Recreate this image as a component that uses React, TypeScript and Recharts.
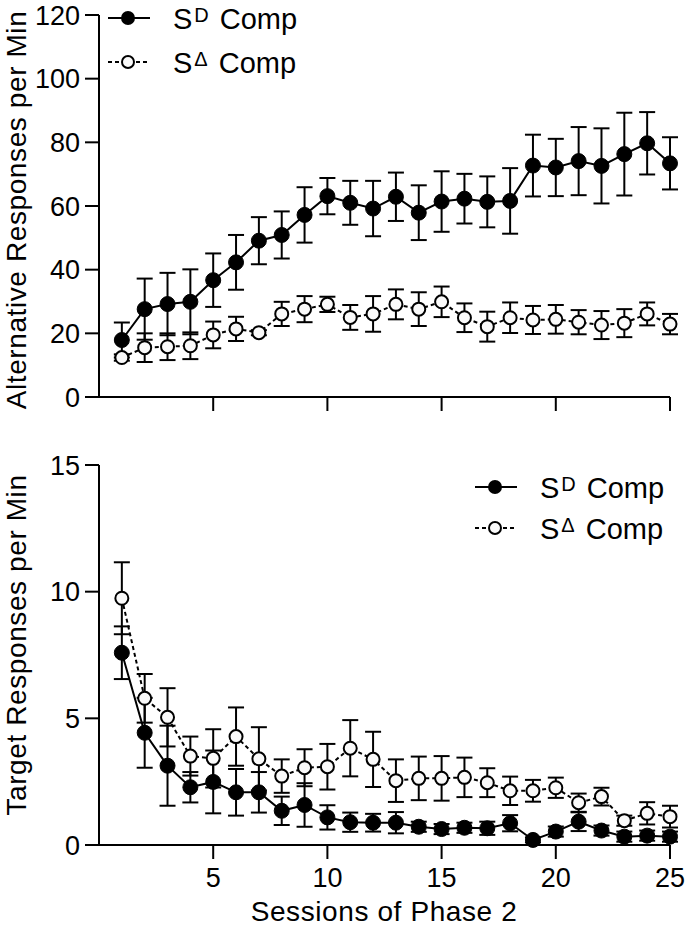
import React from 'react';
import { LineChart, Line, XAxis, YAxis, ErrorBar, Legend } from 'recharts';

// sessions of phase 2
const sessions = [1, 2, 3, 4, 5, 6, 7, 8, 9, 10, 11, 12, 13, 14, 15, 16, 17, 18, 19, 20, 21, 22, 23, 24, 25];

// top panel: alternative responses per min (mean, SEM)
const altSD = [17.9, 27.6, 29.2, 29.9, 36.7, 42.3, 49.1, 50.9, 57.2, 63.1, 61.0, 59.2, 62.9, 57.9, 61.4, 62.3, 61.3, 61.6, 72.7, 72.1, 74.1, 72.6, 76.3, 79.7, 73.4];
const altSDErr = [5.5, 9.6, 9.8, 10.2, 8.4, 8.6, 7.4, 7.4, 8.7, 5.7, 6.9, 8.7, 7.6, 8.6, 9.5, 7.8, 8.0, 10.3, 9.7, 9.0, 10.7, 11.8, 13.0, 9.8, 8.2];
const altSDelta = [12.4, 15.5, 15.8, 16.1, 19.5, 21.4, 20.2, 26.1, 27.6, 29.1, 25.0, 26.1, 29.1, 27.6, 29.9, 24.9, 22.1, 24.9, 24.2, 24.4, 23.5, 22.6, 23.2, 26.1, 22.9];
const altSDeltaErr = [1.0, 4.5, 4.2, 4.2, 4.2, 3.8, 0.8, 3.8, 4.1, 2.4, 3.9, 5.6, 4.7, 5.3, 4.8, 4.5, 4.7, 4.8, 4.4, 4.5, 3.8, 4.4, 4.4, 3.6, 3.2];

// bottom panel: target responses per min (mean, SEM)
const tgtSD = [7.59, 4.43, 3.13, 2.28, 2.49, 2.08, 2.08, 1.35, 1.58, 1.09, 0.9, 0.88, 0.88, 0.72, 0.63, 0.68, 0.66, 0.86, 0.2, 0.53, 0.92, 0.57, 0.33, 0.37, 0.33];
const tgtSDErr = [1.04, 1.38, 1.58, 0.6, 1.24, 0.92, 0.8, 0.56, 0.86, 0.48, 0.38, 0.35, 0.42, 0.2, 0.2, 0.2, 0.26, 0.32, 0.1, 0.2, 0.37, 0.2, 0.2, 0.2, 0.2];
const tgtSDelta = [9.74, 5.79, 5.04, 3.51, 3.42, 4.28, 3.4, 2.72, 3.05, 3.09, 3.82, 3.38, 2.54, 2.63, 2.63, 2.67, 2.46, 2.14, 2.14, 2.26, 1.67, 1.91, 0.96, 1.25, 1.12];
const tgtSDeltaErr = [1.42, 0.96, 1.15, 0.77, 1.15, 1.15, 1.25, 0.66, 0.73, 0.9, 1.11, 1.09, 0.84, 0.86, 0.88, 0.78, 0.57, 0.56, 0.43, 0.4, 0.36, 0.35, 0.2, 0.44, 0.43];

const xTicks = [5, 10, 15, 20, 25];
const altTicks = [0, 20, 40, 60, 80, 100, 120];
const tgtTicks = [0, 5, 10, 15];
const legendSups = ['D', 'Δ'];

const FONT = '"Liberation Sans", Arial, sans-serif';

const topData = sessions.map((s, i) => ({
  session: s,
  sd: altSD[i],
  sdErr: altSDErr[i],
  sdelta: altSDelta[i],
  sdeltaErr: altSDeltaErr[i],
}));

const bottomData = sessions.map((s, i) => ({
  session: s,
  sd: tgtSD[i],
  sdErr: tgtSDErr[i],
  sdelta: tgtSDelta[i],
  sdeltaErr: tgtSDeltaErr[i],
}));

const axisStyle = { stroke: '#000', strokeWidth: 2 };

const YTick = (props: any) => (
  <text x={props.x} y={props.y} dy="0.36em" textAnchor="end" fontFamily={FONT} fontSize={27} fill="#000">
    {props.payload.value}
  </text>
);

const XTick = (props: any) => (
  <text x={props.x} y={props.y} dy="0.72em" textAnchor="middle" fontFamily={FONT} fontSize={27} fill="#000">
    {props.payload.value}
  </text>
);

function AxisTitle(props: any) {
  const { tx, ty, rot, text } = props;
  return (
    <text
      x={tx}
      y={ty}
      transform={rot ? `rotate(-90, ${tx}, ${ty})` : undefined}
      textAnchor="middle"
      fontFamily={FONT}
      fontSize={28}
      letterSpacing={0.6}
      fill="#000"
    >
      {text}
    </text>
  );
}

function LegendBox({ gap }: { gap: number }) {
  return (
    <svg width={240} height={90} style={{ display: 'block' }}>
      {legendSups.map((sup, i) => {
        const cy = 20 + i * gap;
        const filled = i === 0;
        return (
          <g key={sup}>
            <line x1={8} x2={50} y1={cy} y2={cy} stroke="#000" strokeWidth={2} strokeDasharray={filled ? undefined : '4 3'} />
            <circle cx={28} cy={cy} r={filled ? 7 : 6} fill={filled ? '#000' : '#fafafa'} stroke="#000" strokeWidth={filled ? 0 : 2} />
            <text x={73} y={cy + 11} fontFamily={FONT} fontSize={29} fill="#000">
              S
              <tspan dx={2} dy={-7} fontSize={20}>{sup}</tspan>
              <tspan dx={11} dy={7} fontSize={29}>Comp</tspan>
            </text>
          </g>
        );
      })}
    </svg>
  );
}

export default function App() {
  return (
    <div style={{ position: 'absolute', left: 0, top: 0, width: 685, height: 929, background: '#fff' }}>
      <div style={{ position: 'absolute', left: 0, top: 0 }}>
        <LineChart width={685} height={430} data={topData} margin={{ top: 15, right: 15, left: 0, bottom: 13 }}>
          <XAxis
            dataKey="session"
            type="number"
            domain={[0, 25]}
            ticks={xTicks}
            tickFormatter={() => ''}
            tickSize={14}
            height={20}
            axisLine={axisStyle}
            tickLine={axisStyle}
          />
          <YAxis
            type="number"
            domain={[0, 120]}
            ticks={altTicks}
            width={99}
            tickSize={14}
            tickMargin={5}
            tick={<YTick />}
            axisLine={axisStyle}
            tickLine={axisStyle}
            label={<AxisTitle tx={26} ty={210} rot text="Alternative Responses per Min" />}
          />
          <Legend
            layout="horizontal"
            verticalAlign="middle"
            align="center"
            wrapperStyle={{ top: -2, left: 100, width: 240 }}
            content={() => <LegendBox gap={44} />}
          />
          <Line
            dataKey="sdelta"
            stroke="#000"
            strokeWidth={2}
            strokeDasharray="4 3"
            dot={{ r: 6.5, fill: '#fafafa', stroke: '#000', strokeWidth: 2, strokeDasharray: 'none' }}
            activeDot={false}
            isAnimationActive={false}
          >
            <ErrorBar dataKey="sdeltaErr" width={8} stroke="#000" strokeWidth={2} direction="y" isAnimationActive={false} />
          </Line>
          <Line
            dataKey="sd"
            stroke="#000"
            strokeWidth={2}
            dot={{ r: 7.5, fill: '#000', stroke: '#000', strokeWidth: 1 }}
            activeDot={false}
            isAnimationActive={false}
          >
            <ErrorBar dataKey="sdErr" width={8} stroke="#000" strokeWidth={2} direction="y" isAnimationActive={false} />
          </Line>
        </LineChart>
      </div>
      <div style={{ position: 'absolute', left: 0, top: 440 }}>
        <LineChart width={685} height={489} data={bottomData} margin={{ top: 25, right: 15, left: 0, bottom: 0 }}>
          <XAxis
            dataKey="session"
            type="number"
            domain={[0, 25]}
            ticks={xTicks}
            tickSize={14}
            tickMargin={9}
            height={84}
            tick={<XTick />}
            axisLine={axisStyle}
            tickLine={axisStyle}
            label={<AxisTitle tx={384} ty={481} text="Sessions of Phase 2" />}
          />
          <YAxis
            type="number"
            domain={[0, 15]}
            ticks={tgtTicks}
            width={99}
            tickSize={14}
            tickMargin={5}
            tick={<YTick />}
            axisLine={axisStyle}
            tickLine={axisStyle}
            label={<AxisTitle tx={26} ty={205} rot text="Target Responses per Min" />}
          />
          <Legend
            layout="horizontal"
            verticalAlign="middle"
            align="center"
            wrapperStyle={{ top: 27, left: 467, width: 240 }}
            content={() => <LegendBox gap={41} />}
          />
          <Line
            dataKey="sdelta"
            stroke="#000"
            strokeWidth={2}
            strokeDasharray="4 3"
            dot={{ r: 6.5, fill: '#fafafa', stroke: '#000', strokeWidth: 2, strokeDasharray: 'none' }}
            activeDot={false}
            isAnimationActive={false}
          >
            <ErrorBar dataKey="sdeltaErr" width={8} stroke="#000" strokeWidth={2} direction="y" isAnimationActive={false} />
          </Line>
          <Line
            dataKey="sd"
            stroke="#000"
            strokeWidth={2}
            dot={{ r: 7.5, fill: '#000', stroke: '#000', strokeWidth: 1 }}
            activeDot={false}
            isAnimationActive={false}
          >
            <ErrorBar dataKey="sdErr" width={8} stroke="#000" strokeWidth={2} direction="y" isAnimationActive={false} />
          </Line>
        </LineChart>
      </div>
    </div>
  );
}
